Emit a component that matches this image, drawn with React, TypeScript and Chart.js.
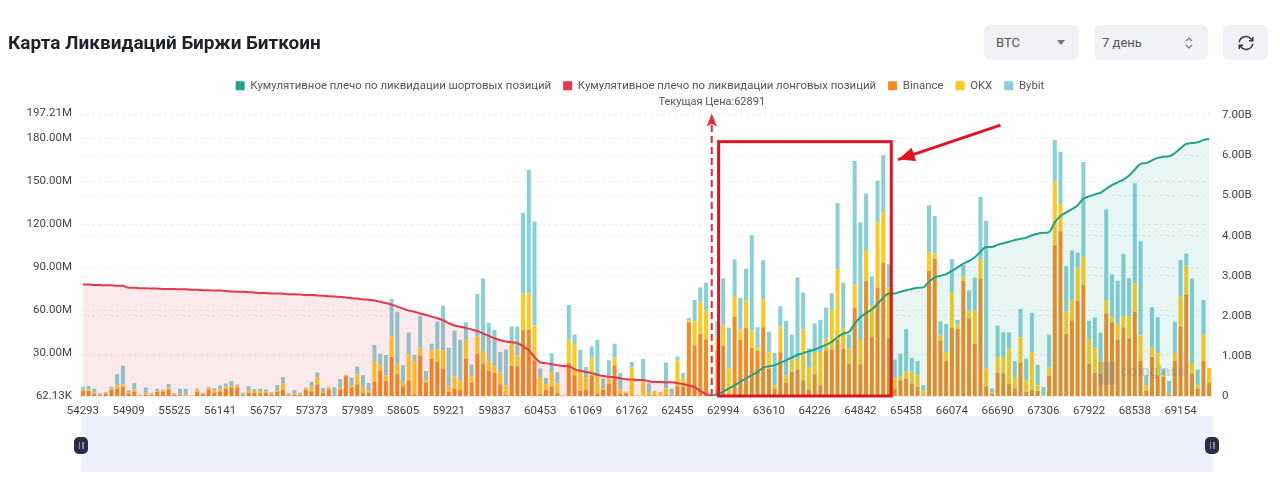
import { useEffect, useRef } from "react";
import { Chart, registerables } from "chart.js";

Chart.register(...registerables);

const FONT = "Roboto, sans-serif";

const TITLE = "Карта Ликвидаций Биржи Биткоин";
const SHORT_LABEL = "Кумулятивное плечо по ликвидации шортовых позиций";
const LONG_LABEL = "Кумулятивное плечо по ликвидации лонговых позиций";
const PRICE_LABEL = "Текущая Цена:62891";

// one label for every 8th bar
const tickLabels = [
	"54293", "54909", "55525", "56141", "56757", "57373", "57989", "58605", "59221", "59837", "60453", "61069", "61762",
	"62455", "62994", "63610", "64226", "64842", "65458", "66074", "66690", "67306", "67922", "68538", "69154",
];
const leftTicks = [0.06213, 30, 60, 90, 120, 150, 180, 197.21];

// millions per price bucket
const binance = [
	3.5, 3.5, 1.8, 0.5, 1.8, 4.6, 5.3, 6.5, 1.8, 3,
	0.2, 0.9, 0.5, 2.8, 2.8, 4.6, 0.7, 0.7, 0.5, 0.1,
	3, 1.2, 4.6, 2.3, 2.8, 5.1, 6, 6, 0.5, 2.3,
	2.3, 1.8, 2.3, 1.2, 3, 4.2, 0.5, 0.7, 0.7, 4.2,
	3, 8.3, 2.3, 4.6, 0.2, 4.6, 13.9, 6, 8.3, 2.3,
	2.3, 9.9, 17.6, 10.6, 27.3, 15.2, 6.9, 11.1, 1.2, 28.4,
	9.2, 26.1, 23.8, 19.2, 3, 5.3, 4.2, 26.1, 9.2, 29.6,
	22.6, 17.6, 16.2, 8.3, 0.7, 21, 20.8, 46.2, 46.2, 24.9,
	1.4, 4.2, 6.5, 2.3, 0.2, 23.1, 14.5, 3.7, 4.6, 14.5,
	1.4, 4.2, 8.8, 21.5, 1.8, 1.8, 0.5, 0.2, 0.2, 0.5,
	0.5, 0.2, 0.5, 0.5, 6.9, 6.9, 51.5, 35.3, 43.4, 39.7,
	0.5, 31.9, 34.9, 0.7, 55.4, 39.3, 47.6, 33.7, 31.4, 48,
	19.2, 5.3, 30.5, 9.2, 16.9, 18.5, 11.1, 4.6, 15.2, 7.6,
	31.4, 32.3, 39.3, 33, 22.6, 61.4, 22.2, 80.4, 41.6, 75.8,
	92.8, 40.4, 5.3, 11.1, 12.2, 8.8, 6.5, 0.5, 87.3, 95.6,
	38.8, 24.5, 47.6, 47.1, 80.4, 53.8, 36.5, 82, 6.9, 1.8,
	16.4, 15.9, 8.5, 5.5, 23.3, 3, 4.6, 3.7, 0.2, 14.1,
	105.3, 115, 43.4, 52.7, 66.5, 77.6, 22.6, 16.2, 15.7, 57.3,
	51.5, 39.3, 48, 40.4, 58.9, 24.9, 3.5, 27.3, 14.5, 13.4,
	0.7, 24.9, 48.5, 71.1, 15.7, 5.3, 24.5, 9.5,
];
const okx = [
	0.7, 1.2, 0.5, 0.5, 0.5, 0.7, 2.3, 1.8, 0.5, 1.6,
	0.2, 1.4, 0.5, 0.9, 0.9, 1.4, 0.5, 0.5, 0.5, 0.1,
	1.6, 0.5, 1.2, 1.4, 1.8, 1.4, 0.9, 1.2, 0.5, 1.4,
	1.2, 1.8, 0.7, 0.5, 1.2, 4.6, 0.2, 1.2, 0.5, 0.9,
	3.5, 5.1, 0.2, 1.4, 0.1, 1.4, 0.5, 1.6, 6.9, 4.2,
	0.9, 14.5, 3.9, 3.9, 14.3, 6.9, 3.7, 18, 23.3, 5.3,
	1.8, 5.8, 8.5, 12.7, 3.5, 8.5, 6.5, 13.2, 4.6, 12,
	8.8, 6.9, 4.6, 7.9, 6.9, 15.5, 7.6, 25.4, 25.4, 24.2,
	12, 4.2, 9.7, 6.5, 0.2, 16.2, 21.9, 13.2, 8.8, 12.2,
	12.5, 1.2, 3.5, 5.3, 2.8, 0.7, 19.4, 0.2, 9.7, 1.4,
	2.8, 2.1, 4.8, 0.5, 18, 5.3, 1.2, 16.9, 22.4, 19.9,
	0.2, 9.2, 14.3, 18.5, 13.9, 6.9, 18.9, 12, 2.3, 19.4,
	11.3, 2.3, 18, 5.3, 8.5, 7.6, 35.1, 15.2, 15.5, 23.1,
	8.5, 27.7, 49.2, 13.9, 10.4, 16.2, 17, 21.5, 21.5, 45.5,
	35.1, 35.3, 7, 2.8, 5.3, 8.1, 8.1, 3.2, 13.2, 3.7,
	3.5, 6.2, 24.5, 2.8, 3, 5.8, 23.1, 13.4, 12.2, 0.7,
	10.9, 11.3, 24.7, 7.9, 17.8, 8.1, 26.1, 3.9, 0.2, 5.8,
	44.3, 18.9, 15.5, 14.3, 22.6, 19.6, 17.3, 17.5, 8.8, 9.2,
	3.5, 11.1, 7.9, 15, 19.6, 17.3, 4.2, 6.5, 15.5, 1.2,
	0.7, 5.1, 20.8, 20.1, 7.4, 2.3, 18.9, 10.2,
];
const bybit = [
	2.3, 2.3, 2.8, 0.9, 0.5, 1.2, 7.6, 12.9, 1.8, 4.6,
	0.5, 3.7, 0.9, 1.4, 0.9, 2.5, 0.7, 3.9, 4.2, 0.3,
	0.7, 0.7, 0.7, 1.8, 2.8, 2.3, 3.7, 0.9, 1.4, 3.2,
	1.2, 1.6, 1.6, 0.9, 3.5, 4.6, 1.2, 2.3, 1.2, 0.9,
	3.5, 3, 3.2, 0.5, 5.8, 6, 0.5, 5.3, 5.5, 8.1,
	6, 11.3, 8.1, 14.1, 26.1, 36.7, 10.9, 15.2, 4.4, 22.4,
	6.5, 4.6, 19.6, 31.2, 27.3, 31.9, 28.6, 12.2, 8.3, 29.6,
	50.6, 26.6, 25.4, 14.5, 24.9, 12, 20.1, 56.1, 86.1, 72.7,
	5.8, 4.2, 13.6, 7.8, 0.2, 24.2, 6.5, 15.5, 6.9, 7.9,
	25.4, 6.9, 12.7, 9.7, 11.5, 0.5, 3.9, 0.2, 15.9, 7,
	0.5, 0.5, 18.2, 4.2, 2.8, 3.9, 1.6, 14.8, 9.9, 19.4,
	0.2, 11.5, 32.8, 28.4, 26.1, 22.2, 22.4, 66.5, 14.3, 27.3,
	14.3, 22.4, 14.1, 38, 17.6, 56.6, 26.1, 13.6, 20.1, 22.6,
	21.9, 11.8, 46.2, 32.1, 9.9, 86.4, 82, 39.5, 20.3, 29.1,
	40.2, 16.2, 13.2, 15.7, 29.1, 9.9, 9.9, 3.9, 32.6, 26.3,
	9.7, 19.6, 23.6, 3.2, 8.1, 14.3, 23.1, 43.6, 103.2, 2.8,
	21.7, 17.3, 11.3, 11.1, 19.9, 15.2, 27.5, 14.3, 6, 23.1,
	29.1, 36.5, 31.9, 34.6, 11.1, 66.1, 12.7, 21.2, 19.9, 63.7,
	30, 30, 43.4, 26.8, 70, 65.8, 6.9, 28.2, 25, 4.6,
	9.2, 21.9, 25.6, 8.1, 58.9, 11, 23.6, 0,
];

// billions, first bar up to the current price bar
const longCumulative = [
	2.78, 2.78, 2.77, 2.77, 2.76, 2.76, 2.75, 2.75, 2.7, 2.7,
	2.69, 2.69, 2.68, 2.68, 2.67, 2.67, 2.67, 2.66, 2.66, 2.65,
	2.65, 2.64, 2.64, 2.63, 2.63, 2.62, 2.61, 2.6, 2.6, 2.59,
	2.58, 2.57, 2.57, 2.56, 2.56, 2.55, 2.54, 2.54, 2.53, 2.52,
	2.52, 2.51, 2.5, 2.49, 2.48, 2.47, 2.46, 2.44, 2.43, 2.41,
	2.4, 2.38, 2.35, 2.32, 2.28, 2.23, 2.18, 2.13, 2.1, 2.06,
	2.02, 1.98, 1.94, 1.89, 1.82, 1.76, 1.73, 1.7, 1.66, 1.62,
	1.56, 1.5, 1.44, 1.39, 1.36, 1.34, 1.32, 1.24, 1.14, 0.97,
	0.84, 0.82, 0.79, 0.77, 0.75, 0.74, 0.67, 0.63, 0.6, 0.57,
	0.53, 0.5, 0.48, 0.47, 0.44, 0.42, 0.41, 0.4, 0.4, 0.37,
	0.35, 0.35, 0.34, 0.34, 0.32, 0.3, 0.26, 0.22, 0.12, 0.05,
	0,
];
// billions, current price bar up to the last bar
const shortCumulative = [
	0, 0.05, 0.11, 0.19, 0.27, 0.35, 0.44, 0.52, 0.6, 0.71,
	0.74, 0.77, 0.83, 0.89, 0.96, 1.03, 1.07, 1.12, 1.16, 1.22,
	1.28, 1.35, 1.47, 1.56, 1.6, 1.8, 1.97, 2.07, 2.16, 2.3,
	2.46, 2.56, 2.56, 2.6, 2.64, 2.67, 2.7, 2.71, 2.85, 2.96,
	3, 3.04, 3.12, 3.21, 3.3, 3.37, 3.46, 3.6, 3.72, 3.72,
	3.77, 3.81, 3.85, 3.89, 3.92, 3.95, 4.01, 4.05, 4.07, 4.09,
	4.33, 4.49, 4.58, 4.66, 4.76, 4.92, 4.98, 5.03, 5.07, 5.17,
	5.26, 5.33, 5.4, 5.5, 5.65, 5.79, 5.81, 5.88, 5.94, 5.97,
	5.98, 6.06, 6.18, 6.29, 6.31, 6.33, 6.39, 6.41,
];

const PRICE_INDEX = longCumulative.length - 1;
const categories = binance.map((_, i) => (i % 8 === 0 ? tickLabels[i / 8] : ""));
const longLine = [...longCumulative, ...shortCumulative.slice(1).map(() => null)];
const shortLine = [...longCumulative.slice(1).map(() => null), ...shortCumulative];

const RED = "#E0141E";

// current price marker, highlight box, arrow and watermark
const overlayPlugin = {
	id: "overlay",
	beforeInit(chart: any) {
		// extra room under the legend
		const fit = chart.legend.fit;
		chart.legend.fit = function () {
			fit.call(this);
			this.height += 12;
		};
	},
	afterDatasetsDraw(chart: any) {
		const { ctx, scales } = chart;
		const x = scales.x;
		const y = scales.y;
		const priceX = x.getPixelForValue(PRICE_INDEX);
		const base = y.getPixelForValue(0.06213);

		ctx.save();
		ctx.fillStyle = "rgba(120,125,135,0.3)";
		ctx.textAlign = "left";
		ctx.textBaseline = "middle";
		ctx.font = `bold 15px ${FONT}`;
		ctx.fillText("coinglass", x.getPixelForValue(181.6), y.getPixelForValue(16.6));
		const logoLeft = x.getPixelForValue(177.6);
		ctx.fillRect(logoLeft, y.getPixelForValue(24), x.getPixelForValue(180.6) - logoLeft, y.getPixelForValue(8) - y.getPixelForValue(24));

		// dashed line up to the price label
		ctx.strokeStyle = "#E5283C";
		ctx.lineWidth = 2;
		ctx.setLineDash([7, 4]);
		ctx.beginPath();
		ctx.moveTo(priceX, base);
		ctx.lineTo(priceX, y.getPixelForValue(190));
		ctx.stroke();
		ctx.setLineDash([]);
		ctx.fillStyle = "#E5283C";
		ctx.beginPath();
		ctx.moveTo(priceX, y.getPixelForValue(197.2));
		ctx.lineTo(priceX + 5, y.getPixelForValue(188));
		ctx.lineTo(priceX, y.getPixelForValue(190));
		ctx.lineTo(priceX - 5, y.getPixelForValue(188));
		ctx.closePath();
		ctx.fill();

		ctx.fillStyle = "#555";
		ctx.textAlign = "center";
		ctx.font = `11px ${FONT}`;
		ctx.fillText(PRICE_LABEL, priceX, y.getPixelForValue(197.21) - 11);

		// highlight box
		ctx.strokeStyle = RED;
		ctx.lineWidth = 3;
		const boxLeft = x.getPixelForValue(111.2);
		const boxRight = x.getPixelForValue(141.4);
		const boxTop = y.getPixelForValue(177.5);
		ctx.strokeRect(boxLeft, boxTop, boxRight - boxLeft, base - boxTop);

		// arrow pointing at the box
		const fromX = x.getPixelForValue(160.5);
		const fromY = y.getPixelForValue(189);
		const toX = x.getPixelForValue(142.6);
		const toY = y.getPixelForValue(165);
		const angle = Math.atan2(toY - fromY, toX - fromX);
		ctx.beginPath();
		ctx.moveTo(fromX, fromY);
		ctx.lineTo(toX, toY);
		ctx.stroke();
		ctx.fillStyle = RED;
		ctx.beginPath();
		ctx.moveTo(toX, toY);
		ctx.lineTo(toX - 18 * Math.cos(angle - 0.4), toY - 18 * Math.sin(angle - 0.4));
		ctx.lineTo(toX - 18 * Math.cos(angle + 0.4), toY - 18 * Math.sin(angle + 0.4));
		ctx.closePath();
		ctx.fill();
		ctx.restore();
	},
};

function LiquidationChart() {
	const canvasRef = useRef<HTMLCanvasElement | null>(null);

	useEffect(() => {
		if (!canvasRef.current) {
			return;
		}

		const chart = new Chart(canvasRef.current, {
			type: "bar",
			data: {
				labels: categories,
				datasets: [
					{
						type: "line",
						label: SHORT_LABEL,
						data: shortLine,
						yAxisID: "y1",
						borderColor: "#1FA38A",
						backgroundColor: "rgba(31,163,138,0.1)",
						borderWidth: 2,
						pointRadius: 0,
						fill: "origin",
						cubicInterpolationMode: "monotone",
						order: 1,
					},
					{
						type: "line",
						label: LONG_LABEL,
						data: longLine,
						yAxisID: "y1",
						borderColor: "#E8364A",
						backgroundColor: "rgba(232,54,74,0.11)",
						borderWidth: 2,
						pointRadius: 0,
						fill: "origin",
						cubicInterpolationMode: "monotone",
						order: 1,
					},
					{ label: "Binance", data: binance, backgroundColor: "#F58A1F", stack: "liq", order: 2 },
					{ label: "OKX", data: okx, backgroundColor: "#FFC81E", stack: "liq", order: 2 },
					{ label: "Bybit", data: bybit, backgroundColor: "#86D0D6", stack: "liq", order: 2 },
				] as any,
			},
			options: {
				responsive: false,
				animation: false,
				layout: { padding: { top: 68, left: 0, right: 0, bottom: 0 } },
				datasets: { bar: { barPercentage: 0.7, categoryPercentage: 1 } },
				plugins: {
					tooltip: { enabled: false },
					legend: {
						position: "top",
						labels: {
							boxWidth: 9,
							boxHeight: 9,
							padding: 12,
							color: "#555",
							font: { family: FONT, size: 11.4 },
							generateLabels: (c: any) =>
								Chart.defaults.plugins.legend.labels.generateLabels(c).map((item: any) => {
									const ds = c.data.datasets[item.datasetIndex];
									const color = ds.type === "line" ? ds.borderColor : ds.backgroundColor;
									return { ...item, fillStyle: color, strokeStyle: color, lineWidth: 0 };
								}),
						},
					},
				},
				scales: {
					x: {
						stacked: true,
						afterFit: (scale: any) => {
							scale.height = 20;
						},
						grid: { display: false },
						border: { display: false },
						ticks: {
							autoSkip: false,
							maxRotation: 0,
							padding: 0,
							color: "#444",
							font: { family: FONT, size: 11.5 },
						},
					},
					y: {
						stacked: true,
						position: "left",
						min: leftTicks[0],
						max: leftTicks[leftTicks.length - 1],
						afterBuildTicks: (scale: any) => {
							scale.ticks = leftTicks.map((value) => ({ value }));
						},
						afterFit: (scale: any) => {
							scale.width = 80;
						},
						grid: { color: "rgba(0,0,0,0.06)", drawTicks: false },
						border: { display: false, dash: [3, 3] },
						ticks: {
							padding: 8,
							color: "#444",
							font: { family: FONT, size: 11.5 },
							callback: (value: any) =>
								value < 1 ? `${(value * 1000).toFixed(2)}K` : `${Number(value).toFixed(2)}M`,
						},
					},
					y1: {
						position: "right",
						min: 0,
						max: 7.05,
						afterBuildTicks: (scale: any) => {
							scale.ticks = [0, 1, 2, 3, 4, 5, 6, 7].map((value) => ({ value }));
						},
						afterFit: (scale: any) => {
							scale.width = 68;
						},
						grid: { color: "rgba(0,0,0,0.06)", drawTicks: false },
						border: { display: false, dash: [3, 3] },
						ticks: {
							padding: 10,
							color: "#444",
							font: { family: FONT, size: 11.5 },
							callback: (value: any) => (value === 0 ? "0" : `${Number(value).toFixed(2)}B`),
						},
					},
				},
			} as any,
			plugins: [overlayPlugin],
		});

		return () => {
			chart.destroy();
		};
	}, []);

	return <canvas ref={canvasRef} width={1280} height={416} style={{ position: "absolute", left: 0, top: 0 }} />;
}

const controlStyle: React.CSSProperties = {
	position: "absolute",
	top: 25,
	height: 35,
	boxSizing: "border-box",
	background: "#F0F2F5",
	borderRadius: 6,
	display: "flex",
	alignItems: "center",
	justifyContent: "space-between",
	padding: "0 12px",
	fontSize: 13,
	color: "#555",
};

function SliderHandle({ left }: { left: number }) {
	return (
		<div
			style={{
				position: "absolute",
				left,
				top: 437,
				width: 14,
				height: 17,
				borderRadius: 5,
				background: "#2C2C44",
				display: "flex",
				alignItems: "center",
				justifyContent: "center",
				gap: 2,
			}}
		>
			<div style={{ width: 1.5, height: 7, background: "#8A8A9E" }} />
			<div style={{ width: 1.5, height: 7, background: "#8A8A9E" }} />
		</div>
	);
}

export default function App() {
	return (
		<div style={{ position: "fixed", inset: 0, background: "#fff", fontFamily: FONT, overflow: "hidden" }}>
			<LiquidationChart />
			<div
				style={{
					position: "absolute",
					left: 8,
					top: 31,
					fontSize: 19,
					lineHeight: "24px",
					fontWeight: 700,
					color: "#1E2329",
					whiteSpace: "nowrap",
				}}
			>
				{TITLE}
			</div>
			<div style={{ ...controlStyle, left: 984, width: 95 }}>
				<span>BTC</span>
				<svg width="8" height="5" viewBox="0 0 10 6" style={{ marginRight: 2 }}>
					<path d="M0 0h10L5 6z" fill="#777" />
				</svg>
			</div>
			<div style={{ ...controlStyle, left: 1094, width: 114 }}>
				<span style={{ marginLeft: -4 }}>7 день</span>
				<svg width="10" height="14" viewBox="0 0 10 14" style={{ marginRight: 2 }}>
					<path d="M2 5l3-3 3 3M2 9l3 3 3-3" fill="none" stroke="#777" strokeWidth="1.2" />
				</svg>
			</div>
			<div style={{ ...controlStyle, left: 1223, width: 45, justifyContent: "center", padding: 0 }}>
				<svg width="18" height="18" viewBox="0 0 24 24" fill="none" stroke="#333" strokeWidth="2">
					<path d="M3 11a9 9 0 0 1 16-4l2 2M21 13a9 9 0 0 1-16 4l-2-2" />
					<path d="M21 4v5h-5M3 20v-5h5" />
				</svg>
			</div>
			<div style={{ position: "absolute", left: 81, top: 416, width: 1132, height: 56, background: "#EDEFFC" }} />
			<SliderHandle left={74} />
			<SliderHandle left={1205} />
		</div>
	);
}
